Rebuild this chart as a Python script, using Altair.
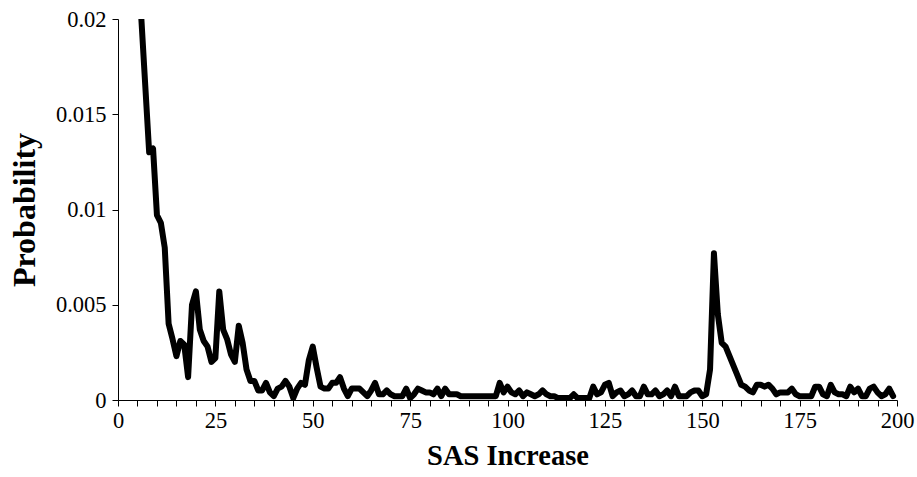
import altair as alt
import pandas as pd

# SAS increase (x) and the probability of each increase (y)
sas_increase = list(range(6, 200))
probability = [
    0.0200, 0.0165, 0.0130, 0.0132, 0.0097, 0.0093, 0.0080, 0.0040, 0.0032, 0.0023,  # 6-15
    0.0031, 0.0029, 0.0012, 0.0050, 0.0057, 0.0037, 0.0031, 0.0028, 0.0020, 0.0022,  # 16-25
    0.0057, 0.0037, 0.0032, 0.0024, 0.0020, 0.0039, 0.0030, 0.0016, 0.0010, 0.0010,  # 26-35
    0.0005, 0.0005, 0.0009, 0.0004, 0.0002, 0.0006, 0.0007, 0.0010, 0.0007, 0.0001,  # 36-45
    0.0006, 0.0009, 0.0008, 0.0021, 0.0028, 0.0017, 0.0007, 0.0006, 0.0006, 0.0009,  # 46-55
    0.0009, 0.0012, 0.0006, 0.0002, 0.0006, 0.0006, 0.0006, 0.0004, 0.0002, 0.0005,  # 56-65
    0.0009, 0.0003, 0.0003, 0.0005, 0.0003, 0.0002, 0.0002, 0.0002, 0.0006, 0.0001,  # 66-75
    0.0003, 0.0006, 0.0005, 0.0004, 0.0004, 0.0003, 0.0006, 0.0002, 0.0006, 0.0003,  # 76-85
    0.0003, 0.0003, 0.0002, 0.0002, 0.0002, 0.0002, 0.0002, 0.0002, 0.0002, 0.0002,  # 86-95
    0.0002, 0.0002, 0.0009, 0.0004, 0.0007, 0.0004, 0.0003, 0.0005, 0.0002, 0.0004,  # 96-105
    0.0003, 0.0002, 0.0003, 0.0005, 0.0003, 0.0002, 0.0002, 0.0001, 0.0001, 0.0001,  # 106-115
    0.0001, 0.0003, 0.0001, 0.0001, 0.0001, 0.0001, 0.0007, 0.0003, 0.0004, 0.0008,  # 116-125
    0.0009, 0.0002, 0.0004, 0.0005, 0.0002, 0.0003, 0.0005, 0.0002, 0.0002, 0.0007,  # 126-135
    0.0003, 0.0003, 0.0005, 0.0002, 0.0003, 0.0005, 0.0002, 0.0007, 0.0002, 0.0002,  # 136-145
    0.0002, 0.0004, 0.0005, 0.0005, 0.0002, 0.0003, 0.0016, 0.0077, 0.0045, 0.0030,  # 146-155
    0.0028, 0.0023, 0.0018, 0.0013, 0.0008, 0.0007, 0.0005, 0.0004, 0.0008, 0.0008,  # 156-165
    0.0007, 0.0008, 0.0006, 0.0003, 0.0004, 0.0004, 0.0004, 0.0006, 0.0003, 0.0002,  # 166-175
    0.0002, 0.0002, 0.0002, 0.0007, 0.0007, 0.0003, 0.0002, 0.0008, 0.0004, 0.0003,  # 176-185
    0.0003, 0.0002, 0.0007, 0.0004, 0.0006, 0.0002, 0.0002, 0.0006, 0.0007, 0.0004,  # 186-195
    0.0002, 0.0003, 0.0006, 0.0002,                                                  # 196-199
]

x_ticks = list(range(0, 201, 5))
y_ticks = [0, 0.005, 0.01, 0.015, 0.02]

df = pd.DataFrame({"sas": sas_increase, "p": probability})

FONT = "Liberation Serif"

axis_style = dict(
    labelFont=FONT,
    titleFont=FONT,
    labelColor="black",
    titleColor="black",
    titleFontWeight="bold",
    domainColor="black",
    tickColor="black",
    domainWidth=1,
    tickWidth=1,
    grid=False,
    labelFontSize=22.5,
    tickSize=6,
)

chart = (
    alt.Chart(df)
    .mark_line(color="black", strokeWidth=6, strokeJoin="round", strokeCap="round", clip=True)
    .encode(
        x=alt.X(
            "sas:Q",
            title="SAS Increase",
            scale=alt.Scale(domain=[0, 200], nice=False, zero=False),
            axis=alt.Axis(
                values=x_ticks,
                labelExpr="datum.value % 25 == 0 ? datum.label : ''",
                titleFontSize=28.5,
                titlePadding=10,
                labelPadding=3,
                labelFlush=False,
                labelOverlap=False,
                **axis_style,
            ),
        ),
        y=alt.Y(
            "p:Q",
            title="Probability",
            scale=alt.Scale(domain=[0, 0.02], nice=False),
            axis=alt.Axis(
                values=y_ticks,
                format="~g",
                titleFontSize=32,
                titlePadding=14,
                labelPadding=6,
                **axis_style,
            ),
        ),
    )
    .properties(
        width=779,
        height=381,
        autosize=alt.AutoSizeParams(type="none"),
        padding={"left": 118, "top": 19, "right": 20, "bottom": 77},
        background="white",
    )
    .configure_view(stroke=None)
)

chart.save("out.html", embed_options={"renderer": "svg", "actions": False})
